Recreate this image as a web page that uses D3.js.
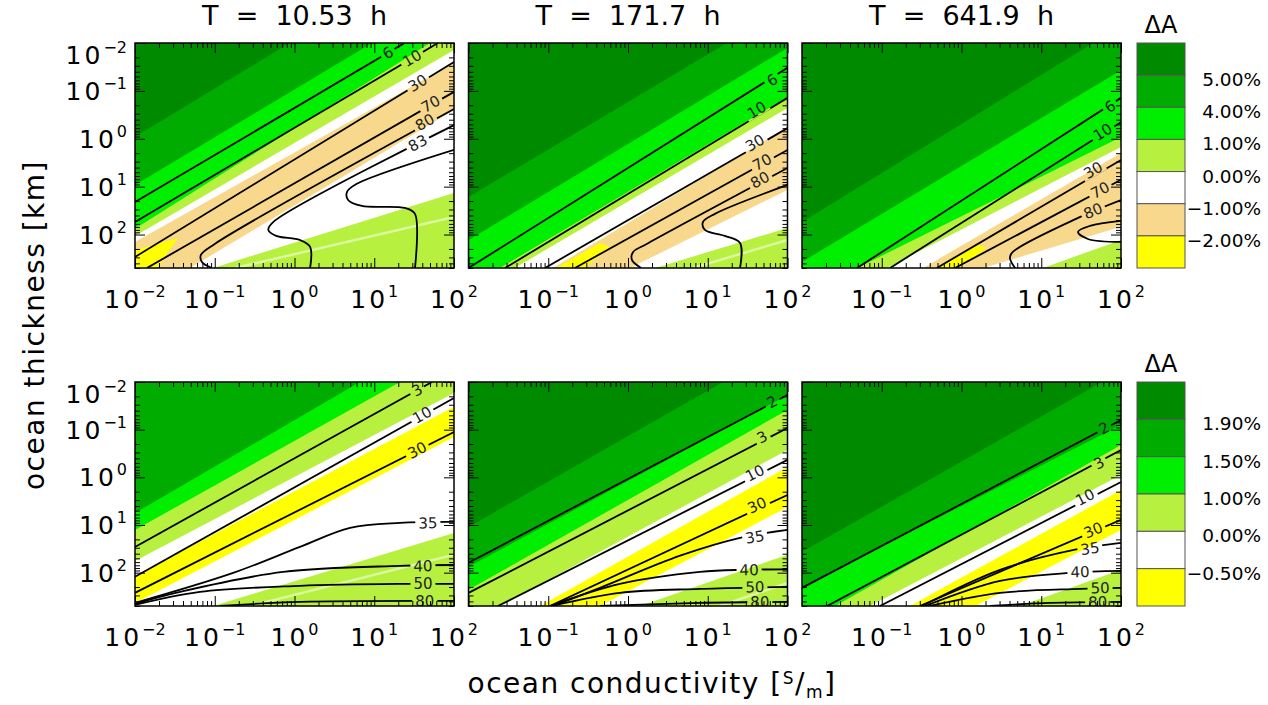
<!DOCTYPE html>
<html><head><meta charset="utf-8">
<script src="https://cdn.jsdelivr.net/npm/d3@7"></script>
<style>
body{margin:0;background:#fff}
svg{display:block}
text{font-family:"DejaVu Sans",sans-serif;fill:#000}
</style>
</head><body>
<svg id="chart" width="1268" height="705"></svg>
<script>
// ---------------- data ----------------
const periods = ["10.53", "171.7", "641.9"];
const xTickValues = [0.01, 0.1, 1, 10, 100];
const xTickExps = ["\u22122", "\u22121", "0", "1", "2"];
const yTickValues = [0.01, 0.1, 1, 10, 100];
const yTickExps = ["\u22122", "\u22121", "0", "1", "2"];
const levelLabelsTop = ["5.00%", "4.00%", "1.00%", "0.00%", "\u22121.00%", "\u22122.00%"];
const levelLabelsBottom = ["1.90%", "1.50%", "1.00%", "0.00%", "\u22120.50%"];
const colorsTop = ["#008a00", "#00ac00", "#00ee00", "#b8f040", "#ffffff", "#f8d88c", "#ffff00"];
const colorsBottom = ["#008a00", "#00ac00", "#00ee00", "#b8f040", "#ffffff", "#ffff00"];
const baseLevel = 4;

// fill boundaries: [conductivity S/m, thickness km] points
const layers_T1 = [
  {level: 5, side: "above", pts: [[0.049, 500], [100, 0.25]]},
  {level: 4, side: "above", pts: [[0.01, 143], [100, 0.026]]},
  {level: 3, side: "above", pts: [[0.01, 107], [100, 0.014]]},
  {level: 2, side: "above", pts: [[0.01, 76], [50, 0.01]]},
  {level: 1, side: "above", pts: [[0.01, 9.2], [9.4, 0.01]]},
  {level: 0, side: "above", pts: [[0.01, 0.91], [0.87, 0.01]]},
  {level: 6, side: "poly", pts: [[0.01, 210], [0.0346, 118], [0.0189, 500], [0.01, 500]]},
  {level: 3, side: "below", pts: [[0.095, 500], [100, 13.5]]}
];
const layers_T2 = [
  {level: 5, side: "above", pts: [[1.06, 500], [100, 11.7]]},
  {level: 4, side: "above", pts: [[0.115, 500], [100, 0.57]]},
  {level: 3, side: "above", pts: [[0.038, 500], [100, 0.228]]},
  {level: 2, side: "above", pts: [[0.0248, 500], [100, 0.134]]},
  {level: 1, side: "above", pts: [[0.01, 130], [100, 0.0127]]},
  {level: 0, side: "above", pts: [[0.01, 16.4], [17.4, 0.01]]},
  {level: 6, side: "poly", pts: [[0.125, 500], [0.446, 150], [0.594, 181], [0.29, 500]]},
  {level: 3, side: "below", pts: [[2.2, 500], [100, 73]]}
];
const layers_T3 = [
  {level: 5, side: "above", pts: [[1.86, 500], [100, 69]]},
  {level: 4, side: "above", pts: [[0.33, 500], [100, 1.98]]},
  {level: 3, side: "above", pts: [[0.116, 500], [100, 1.48]]},
  {level: 2, side: "above", pts: [[0.049, 500], [100, 0.92]]},
  {level: 1, side: "above", pts: [[0.01, 373], [100, 0.037]]},
  {level: 0, side: "above", pts: [[0.01, 55], [44.6, 0.01]]},
  {level: 6, side: "poly", pts: [[0.466, 500], [1.57, 157], [2.03, 190], [0.96, 500]]},
  {level: 3, side: "below", pts: [[10.5, 500], [100, 130]]}
];
const layers_B1 = [
  {level: 5, side: "above", pts: [[0.01, 430], [100, 0.142]]},
  {level: 4, side: "above", pts: [[0.01, 117], [100, 0.033]]},
  {level: 3, side: "above", pts: [[0.01, 57], [100, 0.017]]},
  {level: 2, side: "above", pts: [[0.01, 12.7], [21, 0.01]]},
  {level: 1, side: "above", pts: [[0.01, 5.6], [6.6, 0.01]]},
  {level: 3, side: "below", pts: [[0.095, 500], [100, 14.7]]}
];
const layers_B2 = [
  {level: 5, side: "above", pts: [[0.446, 500], [100, 4.2]]},
  {level: 4, side: "above", pts: [[0.079, 500], [100, 0.605]]},
  {level: 3, side: "above", pts: [[0.0248, 500], [100, 0.267]]},
  {level: 2, side: "above", pts: [[0.01, 229], [100, 0.0386]]},
  {level: 1, side: "above", pts: [[0.01, 75.5], [100, 0.0188]]},
  {level: 0, side: "above", pts: [[0.01, 11], [15.5, 0.01]]},
  {level: 3, side: "below", pts: [[1.41, 500], [100, 42]]}
];
const layers_B3 = [
  {level: 5, side: "above", pts: [[1.48, 500], [100, 12.7]]},
  {level: 4, side: "above", pts: [[0.226, 500], [100, 1.84]]},
  {level: 3, side: "above", pts: [[0.071, 500], [100, 0.89]]},
  {level: 2, side: "above", pts: [[0.026, 500], [100, 0.21]]},
  {level: 1, side: "above", pts: [[0.01, 199], [100, 0.08]]},
  {level: 0, side: "above", pts: [[0.01, 36.6], [57.8, 0.01]]},
  {level: 3, side: "below", pts: [[5.4, 500], [100, 87]]}
];

// contour lines
const contours_T1 = [
  {label: "6", pts: [[0.01, 21], [24, 0.01]], at: [14.8, 0.016]},
  {label: "10", pts: [[0.01, 55], [63, 0.01]], at: [29.7, 0.0206]},
  {label: "30", pts: [[0.01, 294], [100, 0.025]], at: [35, 0.068]},
  {label: "70", pts: [[0.0141, 500], [100, 0.105]], at: [51, 0.186]},
  {label: "80", pts: [[0.092, 500], [0.069, 373], [0.067, 267], [0.10, 157], [100, 0.24]], at: [43, 0.45]},
  {label: "83", pts: [[1.57, 500], [1.57, 181], [1.17, 130], [0.59, 107], [0.47, 80], [0.54, 55], [100, 0.52]], at: [35, 1.22]},
  {label: "", pts: [[32.4, 500], [32.4, 37], [24.3, 27.9], [7.0, 25.3], [4.7, 19], [4.55, 12.9], [5.7, 9.2], [100, 1.71]]}
];
const contours_T2 = [
  {label: "6", pts: [[0.01, 500], [100, 0.033]], at: [64, 0.059]},
  {label: "10", pts: [[0.0287, 500], [100, 0.14]], at: [41, 0.25]},
  {label: "30", pts: [[0.091, 500], [100, 0.6]], at: [39, 1.22]},
  {label: "70", pts: [[0.216, 500], [100, 1.71]], at: [48, 3.05]},
  {label: "80", pts: [[1.46, 500], [1.12, 339], [1.16, 231], [1.63, 165], [100, 4.07]], at: [45, 7.2]},
  {label: "", pts: [[25.4, 500], [25.4, 150], [16.4, 107], [9.2, 80], [8.7, 55], [12.3, 37], [100, 9.2]]}
];
const contours_T3 = [
  {label: "6", pts: [[0.049, 500], [100, 0.14]], at: [73, 0.21]},
  {label: "10", pts: [[0.127, 500], [100, 0.45]], at: [59, 0.72]},
  {label: "30", pts: [[0.49, 500], [100, 2.77]], at: [44.6, 4.5]},
  {label: "70", pts: [[0.83, 500], [100, 7.2]], at: [54.6, 11.7]},
  {label: "80", pts: [[4.7, 500], [4.05, 308], [4.4, 231], [28.9, 45], [100, 19]], at: [44.6, 32]},
  {label: "", pts: [[100, 52], [40.8, 66], [28.9, 88], [38.5, 124], [100, 143]]}
];
const contours_B1 = [
  {label: "3", pts: [[0.01, 28.8], [53, 0.01]], at: [34.4, 0.0147]},
  {label: "10", pts: [[0.01, 122], [100, 0.0216]], at: [39.7, 0.049]},
  {label: "30", pts: [[0.01, 265], [100, 0.112]], at: [34.4, 0.267]},
  {label: "35", pts: [[0.01, 430], [0.17, 101], [1.17, 28.8], [4.97, 11.5], [21, 9.0], [100, 8.6]], at: [47, 9.0]},
  {label: "40", pts: [[0.01, 451], [0.0366, 253], [0.72, 96], [21, 72], [100, 69]], at: [40.8, 72]},
  {label: "50", pts: [[0.01, 473], [0.065, 253], [1.17, 189], [21, 172], [100, 172]], at: [40.8, 172]},
  {label: "80", pts: [[0.116, 500], [1.17, 409], [100, 390]], at: [43, 390]}
];
const contours_B2 = [
  {label: "2", pts: [[0.01, 62], [100, 0.0188]], at: [64, 0.026]},
  {label: "3", pts: [[0.01, 265], [100, 0.092]], at: [47.9, 0.142]},
  {label: "10", pts: [[0.0234, 500], [100, 0.43]], at: [39, 0.81]},
  {label: "30", pts: [[0.105, 500], [100, 2.34]], at: [41.4, 3.8]},
  {label: "35", pts: [[0.115, 500], [0.446, 208], [4.5, 44], [25.4, 18.6], [100, 12.7]], at: [39, 17.8]},
  {label: "40", pts: [[0.105, 500], [0.79, 172], [8, 96], [29.3, 87], [100, 85]], at: [33, 87]},
  {label: "50", pts: [[0.11, 500], [0.79, 265], [8, 219], [100, 199]], at: [39, 199]},
  {label: "80", pts: [[0.446, 500], [8, 430], [100, 409]], at: [45, 409]}
];
const contours_B3 = [
  {label: "2", pts: [[0.01, 208], [100, 0.063]], at: [61, 0.092]},
  {label: "3", pts: [[0.0206, 500], [100, 0.267]], at: [53, 0.5]},
  {label: "10", pts: [[0.095, 500], [100, 1.25]], at: [35.4, 2.58]},
  {label: "30", pts: [[0.3, 500], [100, 7.8]], at: [44.6, 12.7]},
  {label: "35", pts: [[0.32, 500], [3.04, 87], [26.5, 33], [100, 23.7]], at: [40.8, 31]},
  {label: "40", pts: [[0.35, 500], [3.04, 149], [23, 101], [100, 92]], at: [30.6, 96]},
  {label: "50", pts: [[0.4, 500], [3.04, 265], [30.6, 219], [100, 208]], at: [54.6, 208]},
  {label: "80", pts: [[2.27, 500], [12.9, 430], [100, 409]], at: [51, 409]}
];
// faint light streaks inside the lower-right band
const stripes_T1 = [[[0.18, 500], [100, 43]]];
const stripes_T2 = [[[6.5, 500], [100, 130]]];
const stripes_T3 = [];
const stripes_B1 = [[[0.277, 500], [100, 42]]];
const stripes_B2 = [[[14.2, 500], [100, 164]]];
const stripes_B3 = [];

// ---------------- layout ----------------
const W = 1268, H = 705;
const svg = d3.select("#chart");
const defs = svg.append("defs");
const panelLeft = [135, 468.5, 802], panelW = 319;
const rowTop = [43, 382], panelH = [225, 224];
const xDomain = [0.01, 100], yDomain = [0.01, 500];
const cbX = 1137, cbW = 48;

const rows = [
  {colors: colorsTop, labels: levelLabelsTop, panels: [
    {layers: layers_T1, contours: contours_T1, stripes: stripes_T1},
    {layers: layers_T2, contours: contours_T2, stripes: stripes_T2},
    {layers: layers_T3, contours: contours_T3, stripes: stripes_T3}]},
  {colors: colorsBottom, labels: levelLabelsBottom, panels: [
    {layers: layers_B1, contours: contours_B1, stripes: stripes_B1},
    {layers: layers_B2, contours: contours_B2, stripes: stripes_B2},
    {layers: layers_B3, contours: contours_B3, stripes: stripes_B3}]}
];

function drawPanel(row, col, P, colors) {
  const x0 = panelLeft[col], y0 = rowTop[row], w = panelW, h = panelH[row];
  const x = d3.scaleLog().domain(xDomain).range([x0, x0 + w]);
  const y = d3.scaleLog().domain(yDomain).range([y0, y0 + h]);
  const id = "p" + row + col;
  defs.append("clipPath").attr("id", "clip-" + id)
    .append("rect").attr("x", x0).attr("y", y0).attr("width", w).attr("height", h);
  const g = svg.append("g").attr("clip-path", `url(#clip-${id})`);
  g.append("rect").attr("x", x0).attr("y", y0).attr("width", w).attr("height", h).attr("fill", colors[baseLevel]);
  const [sMin, sMax] = xDomain, [hMin, hMax] = yDomain;
  const lin = d3.line().x(d => x(d[0])).y(d => y(d[1]));
  P.layers.forEach(L => {
    const p = L.pts, f = p[0], l = p[p.length - 1];
    let poly;
    if (L.side === "above") poly = [...p, [l[0], hMin], [sMin, hMin], [sMin, f[1]]];
    else if (L.side === "below") poly = [...p, [sMax, l[1]], [sMax, hMax], [f[0], hMax]];
    else poly = p;
    g.append("path").attr("d", lin(poly) + "Z").attr("fill", colors[L.level]);
  });
  P.stripes.forEach(s => {
    g.append("path").attr("d", lin(s)).attr("fill", "none")
      .attr("stroke", "#ffffff").attr("stroke-opacity", 0.5).attr("stroke-width", 2.5);
  });
  // contours with label gaps
  const mask = defs.append("mask").attr("id", "mask-" + id).attr("maskUnits", "userSpaceOnUse")
    .attr("x", 0).attr("y", 0).attr("width", W).attr("height", H);
  mask.append("rect").attr("x", 0).attr("y", 0).attr("width", W).attr("height", H).attr("fill", "white");
  const cg = g.append("g").attr("mask", `url(#mask-${id})`);
  const lg = g.append("g");
  const curve = d3.line().x(d => x(d[0])).y(d => y(d[1])).curve(d3.curveCatmullRom.alpha(0.5));
  P.contours.forEach(C => {
    cg.append("path").attr("d", curve(C.pts)).attr("fill", "none")
      .attr("stroke", "#000").attr("stroke-width", 1.8);
    if (!C.label) return;
    const px = x(C.at[0]), py = y(C.at[1]);
    const pp = C.pts.map(d => [x(d[0]), y(d[1])]);
    let ang = 0;
    for (let i = 0; i < pp.length - 1; i++) {
      const a = pp[i], b = pp[i + 1];
      if (px >= Math.min(a[0], b[0]) && px <= Math.max(a[0], b[0]) && Math.abs(b[0] - a[0]) > 1) {
        ang = Math.atan2(b[1] - a[1], b[0] - a[0]) * 180 / Math.PI;
      }
    }
    const tr = `translate(${px},${py}) rotate(${ang})`;
    const t = lg.append("text").attr("transform", tr).attr("text-anchor", "middle")
      .attr("dy", "0.36em").attr("font-size", 15).style("fill", "#222").text(C.label);
    const tw = t.node().getComputedTextLength();
    mask.append("rect").attr("transform", tr).attr("x", -tw / 2 - 3).attr("y", -6.5)
      .attr("width", tw + 6).attr("height", 13).attr("fill", "black");
  });

  // ticks (inward on all four sides)
  const xMinor = x.ticks().filter(v => !xTickValues.includes(v));
  const yMinor = y.ticks().filter(v => !yTickValues.includes(v));
  const ag = svg.append("g");
  function ax(gen, tx, ty, vals, size) {
    ag.append("g").attr("transform", `translate(${tx},${ty})`)
      .call(gen.tickValues(vals).tickSize(size).tickFormat(""))
      .call(s => s.select(".domain").remove())
      .call(s => s.selectAll("line").attr("stroke", "#000").attr("stroke-width", 1));
  }
  ax(d3.axisBottom(x), 0, y0 + h, xTickValues, -10); ax(d3.axisBottom(x), 0, y0 + h, xMinor, -5);
  ax(d3.axisTop(x), 0, y0, xTickValues, -10); ax(d3.axisTop(x), 0, y0, xMinor, -5);
  ax(d3.axisLeft(y), x0, 0, yTickValues, -10); ax(d3.axisLeft(y), x0, 0, yMinor, -5);
  ax(d3.axisRight(y), x0 + w, 0, yTickValues, -10); ax(d3.axisRight(y), x0 + w, 0, yMinor, -5);
  svg.append("rect").attr("x", x0).attr("y", y0).attr("width", w).attr("height", h)
    .attr("fill", "none").attr("stroke", "#000").attr("stroke-width", 1.5);

  // tick labels
  xTickValues.forEach((v, i) => {
    if (col > 0 && i === 0) return;
    const t = svg.append("text").attr("x", x(v)).attr("y", y0 + h + 40)
      .attr("text-anchor", "middle").attr("font-size", 25);
    t.append("tspan").style("letter-spacing", "3px").text("10");
    t.append("tspan").attr("dy", -11).attr("font-size", 16).text(xTickExps[i]);
  });
  if (col === 0) {
    yTickValues.forEach((v, i) => {
      const t = svg.append("text").attr("x", x0 - 8).attr("y", y(v) + 9 + (i === 0 ? 12 : 0))
        .attr("text-anchor", "end").attr("font-size", 25);
      t.append("tspan").style("letter-spacing", "3px").text("10");
      t.append("tspan").attr("dy", -11).attr("font-size", 16).text(yTickExps[i]);
    });
  }
  if (row === 0) {
    svg.append("text").attr("x", x0 + w / 2).attr("y", 25).attr("text-anchor", "middle")
      .attr("font-size", 27).style("white-space", "pre").text(`T  =  ${periods[col]}  h`);
  }
}

rows.forEach((R, r) => {
  R.panels.forEach((P, c) => drawPanel(r, c, P, R.colors));
  // colour bar
  const y0 = rowTop[r], h = panelH[r];
  const band = d3.scaleBand().domain(d3.range(R.colors.length)).range([y0, y0 + h]);
  svg.append("g").selectAll("rect").data(R.colors).join("rect")
    .attr("x", cbX).attr("y", (d, i) => band(i)).attr("width", cbW).attr("height", band.bandwidth())
    .attr("fill", d => d).attr("stroke", "#555").attr("stroke-width", 1);
  R.labels.forEach((lab, i) => {
    svg.append("text").attr("x", 1261).attr("y", band(i + 1) + 11)
      .attr("text-anchor", "end").attr("font-size", 18.5).text(lab);
  });
  svg.append("text").attr("x", cbX + cbW / 2).attr("y", y0 - 10).attr("text-anchor", "middle")
    .attr("font-size", 24).text("\u0394A");
});

// axis titles
svg.append("text").attr("transform", "translate(44,325) rotate(-90)").attr("text-anchor", "middle")
  .attr("font-size", 28).style("letter-spacing", "1.5px").text("ocean thickness [km]");
const xt = svg.append("text").attr("x", 652).attr("y", 693).attr("text-anchor", "middle")
  .attr("font-size", 28).style("letter-spacing", "1.5px");
xt.append("tspan").text("ocean conductivity [");
xt.append("tspan").attr("dy", -9).attr("font-size", 17).text("S");
xt.append("tspan").attr("dy", 9).text("/");
xt.append("tspan").attr("dy", 5).attr("font-size", 17).text("m");
xt.append("tspan").attr("dy", -5).text("]");
</script>
</body></html>
